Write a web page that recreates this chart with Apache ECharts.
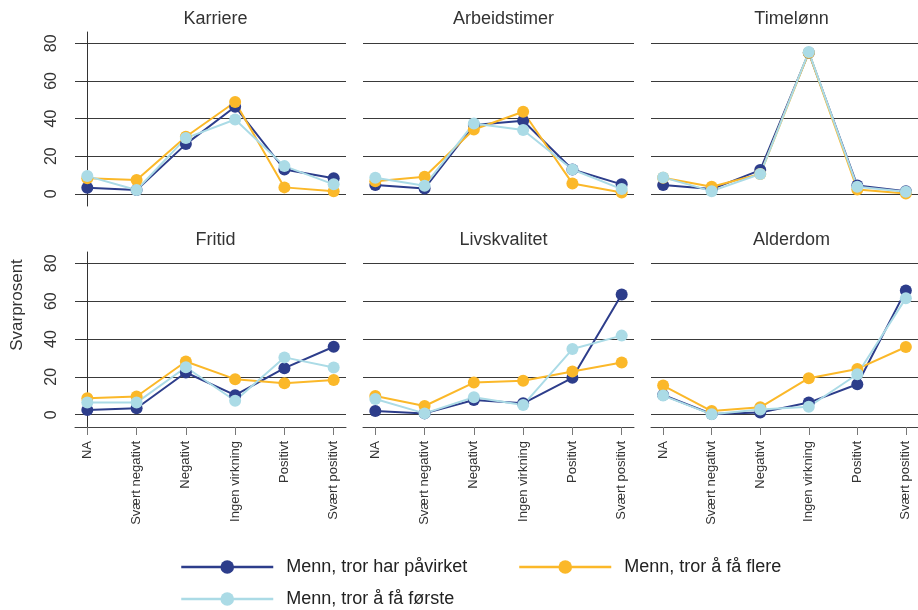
<!DOCTYPE html>
<html><head><meta charset="utf-8">
<script src="https://cdn.jsdelivr.net/npm/echarts@6/dist/echarts.min.js"></script>
<style>html,body{margin:0;padding:0;background:#fff}#c{width:918px;height:610px}</style>
</head><body><div id="c"></div>
<script>
const categories = ['NA','Svært negativt','Negativt','Ingen virkning','Positivt','Svært positivt'];
const panels = ['Karriere','Arbeidstimer','Timelønn','Fritid','Livskvalitet','Alderdom'];
const yTicks = [0,20,40,60,80];
const seriesNames = ['Menn, tror har påvirket','Menn, tror å få flere','Menn, tror å få første'];
const seriesColors = ['#2d3d8b','#fbb829','#abdbe6'];
// one row per panel, in panel order
const harPavirket = [
  [3.2,2.0,26.4,46.3,12.9,8.3],
  [4.6,2.8,36.5,38.8,12.9,5.0],
  [4.6,2.5,12.6,75.0,4.4,1.4],
  [2.5,3.4,22.3,10.3,24.6,35.9],
  [1.9,0.7,7.8,6.0,19.5,63.5],
  [10.4,0.4,1.1,6.4,16.1,65.7]
];
const faFlere = [
  [8.2,7.3,30.3,48.8,3.4,1.4],
  [6.7,9.0,34.2,43.6,5.5,0.7],
  [8.5,3.7,10.5,75.0,2.3,0.2],
  [8.7,9.6,28.1,18.8,16.6,18.4],
  [9.9,4.6,17.0,18.0,22.8,27.6],
  [15.4,1.9,3.9,19.3,24.2,35.8]
];
const faForste = [
  [9.4,2.0,29.6,39.5,14.7,5.0],
  [8.5,4.3,37.4,33.9,12.9,2.5],
  [8.7,1.4,10.5,75.4,3.7,1.1],
  [6.4,6.4,25.1,7.4,30.3,25.0],
  [8.3,0.7,9.2,5.1,34.7,41.8],
  [10.1,0.2,2.8,4.2,21.4,61.6]
];
const allSeries = [harPavirket, faFlere, faForste];

const FONT = '"Liberation Sans", Arial, sans-serif';
const colLeft = [75, 363, 651];
const rowTop = [32, 252];
const rowH = [174, 175];
const W = 271;
const catIdx = categories.map((c,i)=>i);

const grids = [], xAxes = [], yAxes = [], titles = [], series = [];
panels.forEach((p, k) => {
  const r = Math.floor(k/3), c = k%3;
  grids.push({left: colLeft[c], top: rowTop[r], width: W, height: rowH[r], containLabel: false});
  titles.push({text: p, left: colLeft[c] + W/2, top: r === 0 ? 5 : 226, textAlign: 'center',
    textStyle: {fontFamily: FONT, fontSize: 18, fontWeight: 'normal', color: '#333'}});
  xAxes.push({
    type: 'value', gridIndex: k, min: -0.25, max: 5.25,
    splitLine: {show: false},
    axisLine: {show: r === 1, onZero: false, lineStyle: {color: '#444', width: 1}},
    axisTick: {show: r === 1, customValues: catIdx, length: 8, lineStyle: {color: '#777'}},
    axisLabel: {show: r === 1, customValues: catIdx, rotate: 90, margin: 14,
      formatter: v => categories[Math.round(v)], fontFamily: FONT, fontSize: 13, color: '#333'}
  });
  yAxes.push({
    type: 'value', gridIndex: k, min: -6.5, max: 86,
    axisLine: {show: c === 0, lineStyle: {color: '#333', width: 1}},
    axisTick: {show: c === 0, customValues: yTicks, length: 7, lineStyle: {color: '#333'}},
    axisLabel: {show: c === 0, customValues: yTicks, rotate: 90, margin: 15,
      fontFamily: FONT, fontSize: 16, color: '#333'},
    splitLine: {show: true, lineStyle: {color: '#3a3a3a', width: 1}}
  });
  allSeries.forEach((s, j) => {
    series.push({
      type: 'line', name: seriesNames[j], xAxisIndex: k, yAxisIndex: k,
      data: s[k].map((v, i) => [catIdx[i], v]),
      symbol: 'circle', symbolSize: 12, clip: false,
      lineStyle: {width: 2, color: seriesColors[j]},
      itemStyle: {color: seriesColors[j]},
      emphasis: {disabled: true}, animation: false
    });
  });
});

const legendBase = {itemWidth: 92, itemHeight: 17, itemGap: 40, padding: 0,
  lineStyle: {width: 2.5},
  textStyle: {fontFamily: FONT, fontSize: 18, color: '#222', padding: [0,0,0,8]}, selectedMode: false};
const legends = [
  Object.assign({}, legendBase, {data: [seriesNames[0]], left: 180, top: 558}),
  Object.assign({}, legendBase, {data: [seriesNames[1]], left: 518, top: 558}),
  Object.assign({}, legendBase, {data: [seriesNames[2]], left: 180, top: 590})
];

const chart = echarts.init(document.getElementById('c'), null, {renderer: 'canvas'});
chart.setOption({
  animation: false,
  color: seriesColors,
  title: titles,
  grid: grids, xAxis: xAxes, yAxis: yAxes, series: series,
  legend: legends,
  graphic: [{type: 'text', left: 9, top: 'middle', rotation: Math.PI/2,
    style: {text: 'Svarprosent', fontFamily: FONT, fontSize: 17, fill: '#333'}}]
});
</script></body></html>
